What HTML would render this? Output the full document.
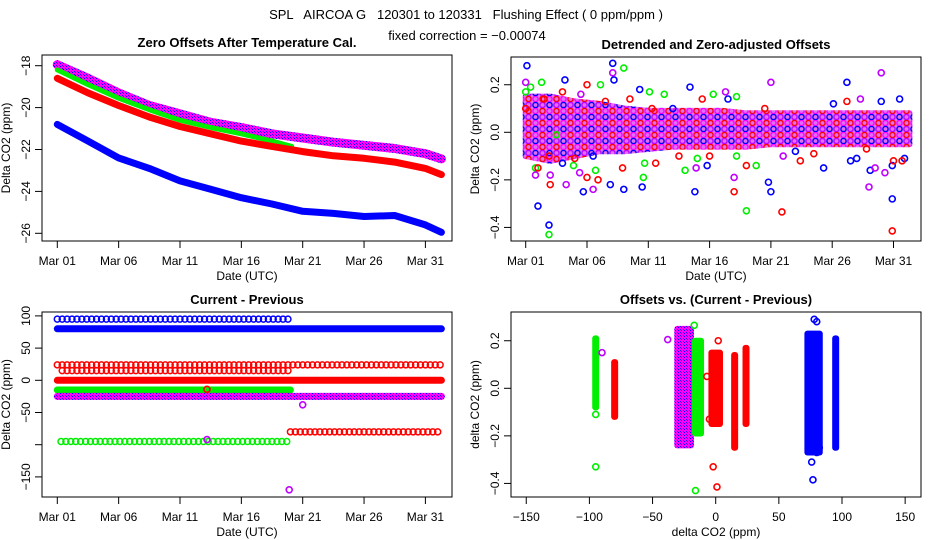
<!DOCTYPE html>
<html><head><meta charset="utf-8"><style>
html,body{margin:0;padding:0;background:#fff;}
svg{display:block;font-family:"Liberation Sans",sans-serif;}
.tk{font-size:12px;fill:#000;}
.ttl{font-size:13px;font-weight:bold;fill:#000;}
.pre{white-space:pre;}
</style></head><body>
<svg id="chart" width="936" height="540" viewBox="0 0 936 540" xmlns="http://www.w3.org/2000/svg">
<defs>
<pattern id="ph" patternUnits="userSpaceOnUse" width="3" height="3">
<rect width="3" height="3" fill="#ff00ff"/><rect width="1" height="1" fill="#0000ff"/><rect x="2" y="2" width="1" height="1" fill="#3000ff"/>
</pattern>
<pattern id="mix" patternUnits="userSpaceOnUse" width="14" height="12">
<rect width="14" height="12" fill="#e070f0"/>
<circle cx="3.5" cy="3" r="2.6" fill="none" stroke="#ff00ff" stroke-width="1.4"/>
<circle cx="10.5" cy="3" r="2.6" fill="none" stroke="#ff0000" stroke-width="1.4"/>
<circle cx="3.5" cy="9" r="2.6" fill="none" stroke="#0000ff" stroke-width="1.4"/>
<circle cx="10.5" cy="9" r="2.6" fill="none" stroke="#c000ff" stroke-width="1.4"/>
</pattern>
</defs>
<text class="pre" x="466" y="19" text-anchor="middle" font-size="13">SPL   AIRCOA G   120301 to 120331   Flushing Effect ( 0 ppm/ppm )</text>
<text x="467" y="40" text-anchor="middle" font-size="13">fixed correction = −0.00074</text>
<g id="g"></g>
</svg>
<script>
// ---------- Panel 1: Zero offsets after temperature cal ----------
const p1Days = [0, 2.5, 5, 7.5, 10, 12.5, 15, 17.5, 20, 22.5, 25, 27.5, 30, 31.3];
const p1Purple = [-17.95, -18.6, -19.3, -19.9, -20.3, -20.7, -20.95, -21.25, -21.45, -21.65, -21.8, -21.95, -22.2, -22.45];
const p1Red = [-18.6, -19.3, -19.9, -20.45, -20.9, -21.25, -21.6, -21.85, -22.1, -22.3, -22.42, -22.6, -22.9, -23.2];
const p1Blue = [-20.8, -21.6, -22.4, -22.9, -23.5, -23.9, -24.3, -24.6, -24.95, -25.05, -25.2, -25.15, -25.6, -25.95];
const p1GreenDays = [0, 2.5, 5, 7.5, 10, 12.5, 15, 17.5, 19.1];
const p1Green = [-18.2, -18.9, -19.55, -20.1, -20.6, -20.95, -21.25, -21.6, -21.85];
const p1YTicks = [-18, -20, -22, -24, -26];
const dateTickDays = [0, 5, 10, 15, 20, 25, 30];
const dateTickLabels = ["Mar 01", "Mar 06", "Mar 11", "Mar 16", "Mar 21", "Mar 26", "Mar 31"];

// ---------- Panel 2: Detrended and zero-adjusted ----------
const p2BandDays = [0, 2, 4, 6, 8, 10, 12, 14, 16, 18, 20, 22, 24, 26, 28, 30, 31.3];
const p2BandHi = [0.15, 0.15, 0.13, 0.12, 0.1, 0.09, 0.09, 0.09, 0.09, 0.08, 0.08, 0.08, 0.08, 0.08, 0.08, 0.08, 0.08];
const p2BandLo = [-0.1, -0.12, -0.1, -0.08, -0.08, -0.07, -0.06, -0.06, -0.06, -0.06, -0.05, -0.05, -0.05, -0.05, -0.05, -0.05, -0.05];
const p2BlueDay = [0.1, 1.0, 1.9, 3.2, 4.7, 7.1, 7.2, 6.9, 8.0, 9.5, 9.3, 13.4, 13.8, 14.8, 19.8, 20.0, 24.3, 26.2, 26.5, 27.0, 28.1, 29.9, 29.9, 30.9, 25.1, 29.0, 30.5, 3.0, 5.5, 12.0, 16.5, 22.0];
const p2BlueVal = [0.28, -0.31, -0.39, 0.22, -0.25, 0.29, 0.22, -0.22, -0.24, -0.23, 0.18, 0.19, -0.25, -0.14, -0.21, -0.25, -0.15, 0.21, -0.12, -0.11, -0.16, -0.28, -0.14, -0.11, 0.12, 0.13, 0.14, -0.13, -0.1, 0.1, 0.14, -0.08];
const p2RedDay = [2.0, 5.0, 5.0, 5.9, 7.9, 17.0, 18.0, 20.9, 29.9, 1.9, 1.0, 22.4, 14.4, 26.2, 30.0, 30.7, 10.6, 27.8, 10.3, 0, 3.0, 6.5, 8.5, 1.5, 4.0, 12.5, 15.0, 19.5, 23.5];
const p2RedVal = [-0.22, 0.2, -0.19, -0.2, -0.15, -0.25, -0.14, -0.335, -0.415, -0.1, -0.15, -0.12, 0.14, 0.13, -0.12, -0.12, -0.13, -0.07, 0.1, 0.1, 0.17, 0.13, 0.14, 0.14, -0.11, -0.1, -0.1, 0.1, -0.09];
const p2GreenDay = [1.9, 1.3, 0.4, 8.0, 6.1, 9.6, 9.7, 13.0, 14.0, 18.0, 18.8, 15.3, 17.2, 10.1, 11.3, 0.8, 5.7, 3.9, 17.2, 0, 2.5];
const p2GreenVal = [-0.43, 0.21, 0.19, 0.27, 0.2, -0.19, -0.13, -0.16, -0.11, -0.33, -0.14, 0.16, 0.15, 0.17, 0.16, -0.15, -0.16, -0.14, -0.1, 0.17, -0.01];
const p2PurpleDay = [0, 20.0, 29.0, 7.1, 3.3, 2.0, 0.8, 5.5, 17.0, 28.0, 28.5, 29.3, 21.0, 16.3, 27.3, 4.5, 4.4, 13.9];
const p2PurpleVal = [0.21, 0.21, 0.25, 0.25, -0.22, -0.18, -0.18, -0.24, -0.19, -0.23, -0.15, -0.17, -0.1, 0.17, 0.14, 0.16, -0.17, -0.15];
const p2YTicks = [-0.4, -0.2, 0.0, 0.2];
const p2YLabels = ["−0.4", "−0.2", "0.0", "0.2"];

// ---------- Panel 3: Current - Previous ----------
const p3Level = [95, 80, 24, 15, 0, -80, -15, -95, -25];
const p3Start = [0, 0, 0, 0.4, 0, 19.0, 0, 0.3, 0];
const p3End = [19.0, 31.3, 31.3, 18.8, 31.3, 31.3, 19.0, 18.8, 31.3];
const p3Color = ["#0000ff", "#0000ff", "#ff0000", "#ff0000", "#ff0000", "#ff0000", "#00ee00", "#00ee00", "url(#ph)"];
const p3Solid = [false, true, false, false, true, false, true, false, true];
const p3OutDay = [12.2, 12.2, 18.9, 20.0];
const p3OutVal = [-14, -92, -170, -38];
const p3OutColor = ["#ff0000", "#c000ff", "#c000ff", "#c000ff"];
const p3YTicks = [100, 50, 0, -50, -100, -150];
const p3YLabels = ["100", "50", "0", "−50", "", "−150"];

// ---------- Panel 4: Offsets vs (Current - Previous) ----------
const p4ColXMin = [-95, -80, -30, -16, -3, 15, 24, 73, 95];
const p4ColXMax = [-95, -80, -20, -12, 3, 15, 24, 82, 95];
const p4ColLo = [-0.08, -0.12, -0.24, -0.19, -0.15, -0.25, -0.15, -0.27, -0.25];
const p4ColHi = [0.21, 0.11, 0.25, 0.2, 0.15, 0.14, 0.17, 0.23, 0.21];
const p4ColColor = ["#00ee00", "#ff0000", "url(#ph)", "#00ee00", "#ff0000", "#ff0000", "#ff0000", "#0000ff", "#0000ff"];
const p4OutX = [-95, -95, -17, -16, 2, -2, 1, -7, -5, -38, -90, 78, 80, 77, 76, 80, 82, 74];
const p4OutY = [-0.11, -0.33, 0.265, -0.43, 0.2, -0.33, -0.415, 0.05, -0.13, 0.205, 0.15, 0.29, 0.28, -0.385, -0.31, -0.27, -0.25, -0.24];
const p4OutColor = ["#00ee00", "#00ee00", "#00ee00", "#00ee00", "#ff0000", "#ff0000", "#ff0000", "#ff0000", "#ff0000", "#c000ff", "#c000ff", "#0000ff", "#0000ff", "#0000ff", "#0000ff", "#0000ff", "#0000ff", "#0000ff"];
const p4XTicks = [-150, -100, -50, 0, 50, 100, 150];
const p4XLabels = ["−150", "−100", "−50", "0", "50", "100", "150"];

const NS = "http://www.w3.org/2000/svg";
const root = document.getElementById("g");
function mk(tag, attrs, parent) {
  const e = document.createElementNS(NS, tag);
  for (const k in attrs) e.setAttribute(k, attrs[k]);
  (parent || root).appendChild(e);
  return e;
}
function txt(s, x, y, cls, anchor, rot, parent) {
  const t = mk("text", {x: x, y: y, class: cls, "text-anchor": anchor || "middle"}, parent);
  if (rot) t.setAttribute("transform", "rotate(-90 " + x + " " + y + ")");
  t.textContent = s;
  return t;
}

const x1 = d => 57.3 + d * 12.27;
const y1 = v => 65.7 + (-18 - v) * 20.95;
const x2 = d => 525.7 + d * 12.26;
const y2 = v => 132.3 - v * 237.8;
const y3 = v => 380.3 - v * 0.644;
const x4 = v => 715.7 + v * 1.263;
const y4 = v => 388.3 - v * 237.8;

function frame(name, L, T, R, B, title, xTitle, yTitle) {
  const g = mk("g", {});
  
  
  const r = mk("rect", {x: L, y: T, width: R - L, height: B - T, fill: "none", stroke: "#000", "stroke-width": 1}, g);
  
  
  const t = txt(title, (L + R) / 2, T - 8, "ttl", "middle", false, g);
  
  
  const xt = txt(xTitle, (L + R) / 2, B + 39, "tk", "middle", false, g);
  
  
  const yt = txt(yTitle, L - 32, (T + B) / 2, "tk", "middle", true, g);
  
  
  return g;
}
function xAxis(g, B, ticks, labels, sx) {
  const ax = mk("g", {}, g);
  
  
  ticks.forEach((d, i) => {
    mk("line", {x1: sx(d), x2: sx(d), y1: B, y2: B + 7, stroke: "#000"}, ax);
    const t = txt(labels[i], sx(d), B + 24, "tk", "middle", false, ax);
    
    
  });
}
function yAxis(g, L, ticks, labels, sy) {
  const ax = mk("g", {}, g);
  
  
  ticks.forEach((v, i) => {
    mk("line", {x1: L - 7, x2: L, y1: sy(v), y2: sy(v), stroke: "#000"}, ax);
    const t = txt(labels[i], L - 12, sy(v), "tk", "middle", true, ax);
    
    
  });
}
function band(g, name, days, vals, sx, sy, color, w) {
  const pts = days.map((d, i) => sx(d).toFixed(1) + "," + sy(vals[i]).toFixed(1)).join(" ");
  const p = mk("polyline", {points: pts, fill: "none", stroke: color, "stroke-width": w, "stroke-linejoin": "round", "stroke-linecap": "round"}, g);
  
  
}
function pts(g, name, xs, ys, sx, sy, color) {
  const s = mk("g", {}, g);
  
  
  xs.forEach((d, i) => {
    const c = mk("circle", {cx: sx(d), cy: sy(ys[i]), r: 3, fill: "none", stroke: color, "stroke-width": 1.6}, s);
    
    
  });
}

// ---- Panel 1
const g1 = frame("panel-zero-offsets", 42, 55, 452, 241, "Zero Offsets After Temperature Cal.", "Date (UTC)", "Delta CO2 (ppm)");
xAxis(g1, 241, dateTickDays, dateTickLabels, x1);
yAxis(g1, 42, p1YTicks, p1YTicks.map(v => "−" + Math.abs(v)), y1);
band(g1, "series-purple", p1Days, p1Purple, x1, y1, "url(#ph)", 9);
band(g1, "series-green", p1GreenDays, p1Green, x1, y1, "#00ee00", 5);
band(g1, "series-red", p1Days, p1Red, x1, y1, "#ff0000", 7);
band(g1, "series-blue", p1Days, p1Blue, x1, y1, "#0000ff", 7);

// ---- Panel 2
const g2 = frame("panel-detrended", 511, 57, 921, 241, "Detrended and Zero-adjusted Offsets", "Date (UTC)", "Delta CO2 (ppm)");
xAxis(g2, 241, dateTickDays, dateTickLabels, x2);
yAxis(g2, 511, p2YTicks, p2YLabels, y2);
{
  const top = p2BandDays.map((d, i) => x2(d).toFixed(1) + "," + y2(p2BandHi[i]).toFixed(1));
  const bot = p2BandDays.map((d, i) => x2(d).toFixed(1) + "," + y2(p2BandLo[i]).toFixed(1)).reverse();
  const a = mk("polygon", {points: top.concat(bot).join(" "), fill: "url(#mix)", stroke: "url(#mix)", "stroke-width": 6, "stroke-linejoin": "round"}, g2);
  
  
}
pts(g2, "series-green-points", p2GreenDay, p2GreenVal, x2, y2, "#00ee00");
pts(g2, "series-blue-points", p2BlueDay, p2BlueVal, x2, y2, "#0000ff");
pts(g2, "series-purple-points", p2PurpleDay, p2PurpleVal, x2, y2, "#c000ff");
pts(g2, "series-red-points", p2RedDay, p2RedVal, x2, y2, "#ff0000");

// ---- Panel 3
const g3 = frame("panel-current-previous", 42, 312, 452, 497, "Current - Previous", "Date (UTC)", "Delta CO2 (ppm)");
xAxis(g3, 497, dateTickDays, dateTickLabels, x1);
yAxis(g3, 42, p3YTicks, p3YLabels, y3);
p3Level.forEach((lv, i) => {
  if (p3Solid[i]) {
    band(g3, "series-solid-" + i, [p3Start[i], p3End[i]], [lv, lv], x1, y3, p3Color[i], 7);
  } else {
    const s = mk("g", {}, g3);
    
    
    for (let d = p3Start[i]; d <= p3End[i] + 1e-6; d += 0.4) {
      mk("circle", {cx: x1(d), cy: y3(lv), r: 3, fill: "none", stroke: p3Color[i], "stroke-width": 1.5}, s);
    }
  }
});
pts(g3, "outlier-points", p3OutDay, p3OutVal, x1, y3, "#c000ff");
p3OutColor.forEach((c, i) => { g3.lastChild.children[i].setAttribute("stroke", c); });

// ---- Panel 4
const g4 = frame("panel-offsets-vs-diff", 511, 312, 921, 497, "Offsets vs. (Current - Previous)", "delta CO2 (ppm)", "delta CO2 (ppm)");
xAxis(g4, 497, p4XTicks, p4XLabels, x4);
yAxis(g4, 511, p2YTicks, p2YLabels, y4);
p4ColXMin.forEach((xm, i) => {
  const L = x4(xm) - 3.5, R = x4(p4ColXMax[i]) + 3.5;
  const r = mk("rect", {x: L, y: y4(p4ColHi[i]) - 3, width: R - L, height: y4(p4ColLo[i]) - y4(p4ColHi[i]) + 6, rx: 3, fill: p4ColColor[i]}, g4);
  
  
});
pts(g4, "outlier-points", p4OutX, p4OutY, x4, y4, "#000");
p4OutColor.forEach((c, i) => { g4.lastChild.children[i].setAttribute("stroke", c); });
</script>
</body></html>
